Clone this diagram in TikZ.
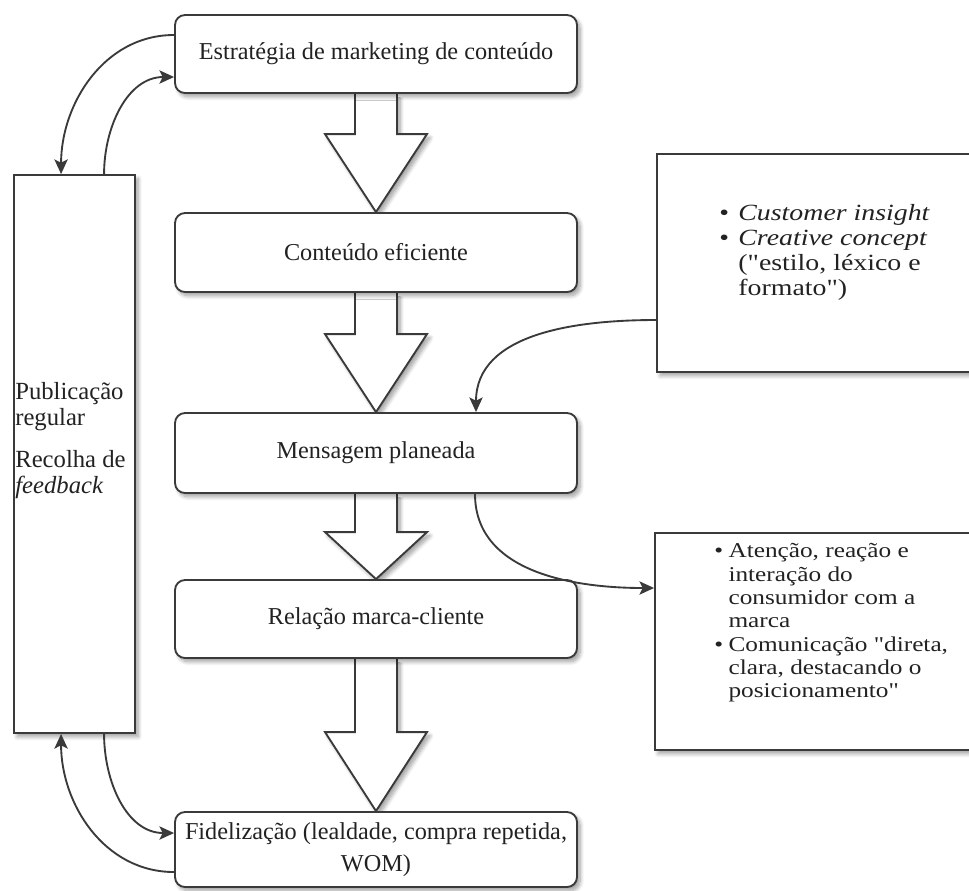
\documentclass[tikz,border=0pt]{standalone}
\usepackage{fontspec}
\setmainfont{Liberation Serif}
\newfontfamily\widefont{Liberation Serif}[FakeStretch=1.2]
\usetikzlibrary{arrows.meta,calc,shadows.blur}

\pgfdeclarelayer{under}
\pgfsetlayers{under,main}

\definecolor{linec}{RGB}{58,58,58}
\definecolor{textc}{RGB}{34,34,34}

\tikzset{
  softshadow/.style={blur shadow={shadow xshift=2.4pt, shadow yshift=-2.8pt,
      shadow blur steps=8, shadow blur radius=3pt, shadow opacity=38}},
  ink/.style={draw=linec, line width=1.4pt},
  stepbox/.style={ink, fill=white, softshadow, rounded corners=7.5pt,
      minimum width=301.5pt, inner sep=0pt, align=center, text=textc,
      font=\fontsize{18.2}{24}\selectfont},
  sidebox/.style={ink, fill=white, softshadow, inner sep=0pt},
  bigarr/.style={ink, fill=white, softshadow, line join=miter},
  link/.style={draw=linec, line width=1.4pt,
      -{Stealth[length=11pt,width=10pt,inset=2.5pt]}},
  plaintext/.style={inner sep=0pt, text=textc},
}

% hollow block arrow from the bottom of one box to the top of the next
\newcommand\DrawBigArrow[3]{%
  \path[bigarr] ($(#1.south)+(-21,0)$) -- ($(#2.north)+(-21,-#3)$)
    -- ($(#2.north)+(-51,-#3)$) -- (#2.north) -- ($(#2.north)+(51,-#3)$)
    -- ($(#2.north)+(21,-#3)$) -- ($(#1.south)+(21,0)$);
}

\begin{document}
\begin{tikzpicture}[x=0.75pt, y=-0.75pt]
\useasboundingbox (0,0) rectangle (969,890);
\clip (0,0) rectangle (969,890);

% main chain
\node[stepbox, minimum height=58.5pt]  (strat) at (376,54)    {Estratégia de marketing de conteúdo};
\node[stepbox, minimum height=59.25pt] (cont)  at (376,252.5) {Conteúdo eficiente};
\node[stepbox, minimum height=60pt]    (msg)   at (376,453)   {Mensagem planeada};
\node[stepbox, minimum height=58.5pt]  (rel)   at (376,619)   {Relação marca-cliente};
\node[stepbox, minimum height=56.25pt] (fid)   at (376,849.5) {Fidelização (lealdade, compra repetida,\\WOM)};

% side column
\node[sidebox, minimum width=90.75pt, minimum height=418.5pt] (side) at (74.5,454) {};
\node[plaintext, anchor=west, align=left, font=\fontsize{18.5}{19.5}\selectfont]
  (sidetext) at ($(side.west)+(2,-13)$)
  {Publicação\\regular\\[12pt]Recolha de\\\textit{feedback}};

% right-hand notes
\node[sidebox, minimum width=249.75pt, minimum height=163.5pt] (ins) at (823.5,263) {};
\node[plaintext, anchor=west, font=\widefont\fontsize{17.4}{18.75}\selectfont]
  (instext) at ($(ins.west)+(63,-10)$)
  {\begin{tabular}{@{}l@{\hspace{7pt}}l@{}}
    \textbullet & \textit{Customer insight}\\
    \textbullet & \textit{Creative concept}\\
                & ("estilo, léxico e\\
                & formato")
  \end{tabular}};

\node[sidebox, minimum width=251.25pt, minimum height=162.75pt] (att) at (822.5,641.5) {};
\node[plaintext, anchor=west, font=\widefont\fontsize{15.8}{17.5}\selectfont]
  (atttext) at ($(att.west)+(60,-18.5)$)
  {\begin{tabular}{@{}l@{\hspace{4pt}}l@{}}
    \textbullet & Atenção, reação e\\
                & interação do\\
                & consumidor com a\\
                & marca\\
    \textbullet & Comunicação "direta,\\
                & clara, destacando o\\
                & posicionamento"
  \end{tabular}};

% block arrows between the steps, kept beneath the boxes
\begin{pgfonlayer}{under}
\DrawBigArrow{strat}{cont}{78}
\DrawBigArrow{cont}{msg}{78}
\DrawBigArrow{msg}{rel}{47}
\DrawBigArrow{rel}{fid}{79}
\end{pgfonlayer}

% curved connectors
\draw[link] ($(strat.west)+(0,-19)$) to[out=180,in=90] ($(side.north west)+(48,0)$);
\draw[link] ($(side.north west)+(91,0)$) to[out=90,in=180] ($(strat.west)+(0,23)$);
\draw[link] ($(side.south west)+(91,0)$) to[out=-90,in=180] ($(fid.west)+(0,-16.5)$);
\draw[link] ($(fid.west)+(0,22.5)$) to[out=180,in=-90] ($(side.south west)+(48,0)$);
\draw[link] ($(ins.west)+(0,57)$) to[out=180,in=90] ($(msg.north)+(100,0)$);
\draw[link] ($(msg.south)+(99,0)$) to[out=-90,in=180] ($(att.west)+(0,-53.5)$);
\end{tikzpicture}
\end{document}
